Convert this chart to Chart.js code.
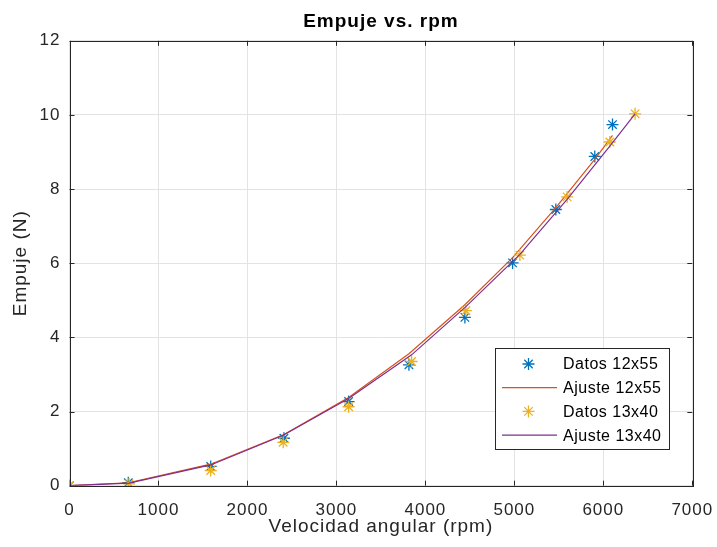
<!DOCTYPE html>
<html>
<head>
<meta charset="utf-8">
<script src="https://cdn.jsdelivr.net/npm/chart.js@4/dist/chart.umd.min.js"></script>
<style>
  html, body { margin: 0; padding: 0; background: #fff; }
  #wrap { width: 717px; height: 547px; }
</style>
</head>
<body>
<div id="wrap"><canvas id="chartEmpuje" width="717" height="547"></canvas></div>
<script>
const rpm12x55 = [0, 661, 1587, 2410, 3137, 3815, 4444, 4980, 5466, 5904, 6103];
const empuje12x55 = [0, 0.08, 0.52, 1.28, 2.27, 3.26, 4.54, 6.01, 7.45, 8.88, 9.74];
const ajuste12x55 = [0, 0.08, 0.58, 1.38, 2.38, 3.56, 4.88, 6.15, 7.50, 8.80, 9.45];

const rpm13x40 = [0, 669, 1587, 2402, 3137, 3845, 4455, 5062, 5593, 6073, 6357];
const empuje13x40 = [0, 0.05, 0.41, 1.17, 2.13, 3.35, 4.72, 6.22, 7.79, 9.27, 10.03];
const ajuste13x40 = [0, 0.07, 0.56, 1.36, 2.35, 3.53, 4.83, 6.24, 7.72, 9.16, 10.03];

const seriesLabels = ['Datos 12x55', 'Ajuste 12x55', 'Datos 13x40', 'Ajuste 13x40'];
const xTicks = [0, 1000, 2000, 3000, 4000, 5000, 6000, 7000];
const yTicks = [0, 2, 4, 6, 8, 10, 12];

const FONT = '"Liberation Sans", Arial, Helvetica, sans-serif';
const AXIS_COLOR = '#262626';

function toPoints(xs, ys) {
  return xs.map((x, i) => ({ x, y: ys[i] }));
}

// MATLAB text is a little spread out
const spacingPlugin = {
  id: 'spacingPlugin',
  beforeUpdate(chart) { chart.ctx.letterSpacing = '1px'; },
  beforeDraw(chart) { chart.ctx.letterSpacing = '1px'; }
};

// MATLAB-style box with inward tick marks
const boxPlugin = {
  id: 'boxPlugin',
  afterDatasetsDraw(chart) {
    const { ctx, chartArea: a, scales } = chart;
    ctx.save();
    ctx.strokeStyle = AXIS_COLOR;
    ctx.lineWidth = 1;
    ctx.beginPath();
    scales.x.ticks.forEach(t => {
      const px = Math.round(scales.x.getPixelForValue(t.value)) + 0.5;
      ctx.moveTo(px, a.bottom); ctx.lineTo(px, a.bottom - 5);
      ctx.moveTo(px, a.top); ctx.lineTo(px, a.top + 5);
    });
    scales.y.ticks.forEach(t => {
      const py = Math.round(scales.y.getPixelForValue(t.value)) + 0.5;
      ctx.moveTo(a.left, py); ctx.lineTo(a.left + 5, py);
      ctx.moveTo(a.right, py); ctx.lineTo(a.right - 5, py);
    });
    ctx.stroke();
    ctx.strokeRect(Math.round(a.left) + 0.5, Math.round(a.top) + 0.5,
      Math.round(a.right - a.left), Math.round(a.bottom - a.top));
    ctx.restore();
  }
};

// legend inside the plot, lower right
const legendPlugin = {
  id: 'legendPlugin',
  afterDraw(chart) {
    const { ctx } = chart;
    const box = { left: 495, top: 348, width: 174, height: 101 };
    ctx.save();
    ctx.letterSpacing = '0.5px';
    ctx.fillStyle = '#fff';
    ctx.fillRect(box.left, box.top, box.width, box.height);
    ctx.strokeStyle = AXIS_COLOR;
    ctx.lineWidth = 1;
    ctx.strokeRect(box.left + 0.5, box.top + 0.5, box.width, box.height);
    ctx.font = '16px ' + FONT;
    ctx.textBaseline = 'middle';
    chart.data.datasets.forEach((ds, i) => {
      const y = 364 + i * 23.7;
      if (ds.showLine) {
        ctx.strokeStyle = ds.borderColor;
        ctx.lineWidth = ds.borderWidth;
        ctx.beginPath();
        ctx.moveTo(502, y); ctx.lineTo(557, y);
        ctx.stroke();
      } else {
        ctx.strokeStyle = ds.borderColor;
        ctx.fillStyle = ds.backgroundColor;
        ctx.lineWidth = ds.borderWidth;
        Chart.helpers.drawPoint(ctx, {
          pointStyle: 'star', radius: 6, borderWidth: ds.borderWidth, rotation: 0
        }, 528.5, y);
      }
      ctx.fillStyle = '#000';
      ctx.fillText(ds.label, 563, y + 1);
    });
    ctx.restore();
  }
};

const datosStyle = color => ({
  showLine: false,
  pointStyle: 'star',
  pointRadius: 6,
  pointHoverRadius: 6,
  borderWidth: 1.3,
  borderColor: color,
  backgroundColor: color
});

const ajusteStyle = color => ({
  showLine: true,
  pointRadius: 0,
  borderWidth: 1.2,
  borderColor: color,
  backgroundColor: color,
  tension: 0,
  fill: false
});

new Chart(document.getElementById('chartEmpuje'), {
  type: 'scatter',
  data: {
    datasets: [
      { label: seriesLabels[0], data: toPoints(rpm12x55, empuje12x55), order: 3, ...datosStyle('#0072BD') },
      { label: seriesLabels[1], data: toPoints(rpm12x55, ajuste12x55), order: 2, ...ajusteStyle('#D95319') },
      { label: seriesLabels[2], data: toPoints(rpm13x40, empuje13x40), order: 1, ...datosStyle('#EDB120') },
      { label: seriesLabels[3], data: toPoints(rpm13x40, ajuste13x40), order: 0, ...ajusteStyle('#7E2F8E') }
    ]
  },
  options: {
    responsive: false,
    animation: false,
    layout: { padding: { left: 0, right: 24.7, top: 0, bottom: 0 } },
    plugins: {
      legend: { display: false },
      tooltip: { enabled: false },
      title: {
        display: true,
        fullSize: false,
        text: 'Empuje vs. rpm',
        color: '#000',
        font: { family: FONT, size: 19, weight: 'bold' },
        padding: { top: 10, bottom: 8 }
      }
    },
    scales: {
      x: {
        type: 'linear',
        min: 0,
        max: 7000,
        afterBuildTicks: scale => { scale.ticks = xTicks.map(v => ({ value: v })); },
        afterFit: scale => {
          scale.height = 61.3;
          scale.paddingLeft = 0;
          scale.paddingRight = 0;
        },
        ticks: {
          color: AXIS_COLOR,
          padding: 14,
          font: { family: FONT, size: 17 },
          maxRotation: 0,
          callback: v => String(v)
        },
        grid: { color: '#e3e3e3', drawTicks: false },
        border: { display: false },
        title: {
          display: true,
          text: 'Velocidad angular (rpm)',
          color: AXIS_COLOR,
          font: { family: FONT, size: 19 },
          padding: { top: 0, bottom: 9 }
        }
      },
      y: {
        type: 'linear',
        min: 0,
        max: 12,
        afterBuildTicks: scale => { scale.ticks = yTicks.map(v => ({ value: v })); },
        afterFit: scale => {
          scale.width = 69.5;
          scale.paddingTop = 0;
          scale.paddingBottom = 0;
        },
        ticks: {
          color: AXIS_COLOR,
          padding: 9,
          font: { family: FONT, size: 17 },
          callback: v => String(v)
        },
        grid: { color: '#e3e3e3', drawTicks: false },
        border: { display: false },
        title: {
          display: true,
          text: 'Empuje (N)',
          color: AXIS_COLOR,
          font: { family: FONT, size: 19 },
          padding: { top: 9, bottom: 0 }
        }
      }
    }
  },
  plugins: [spacingPlugin, boxPlugin, legendPlugin]
});
</script>
</body>
</html>
